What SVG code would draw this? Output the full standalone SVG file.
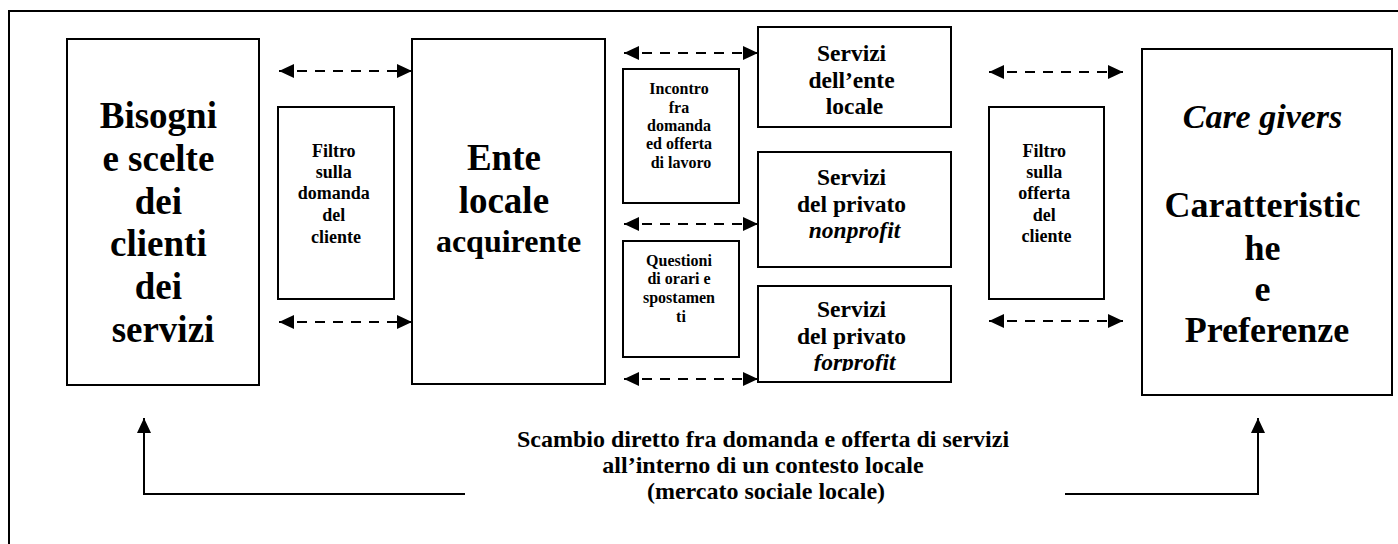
<svg xmlns="http://www.w3.org/2000/svg" width="1398" height="544" viewBox="0 0 1398 544">
<style>
  .box { fill: #fff; stroke: #000; stroke-width: 2; }
  text { font-family: "Liberation Serif", Tinos, "DejaVu Serif", "Times New Roman", serif; font-weight: bold; text-anchor: middle; fill: #000; }
  .i { font-style: italic; }
  .dash { stroke: #000; stroke-width: 2; stroke-dasharray: 10 8; fill: none; }
  .solid { stroke: #000; stroke-width: 2; fill: none; }
</style>
<defs>
  <marker id="ah" viewBox="0 0 15 14" refX="15" refY="7" markerWidth="15" markerHeight="14" markerUnits="userSpaceOnUse" orient="auto-start-reverse">
    <path d="M0,0 L15,7 L0,14 Z" fill="#000" stroke="none"/>
  </marker>
  <clipPath id="clip3"><rect x="758" y="286" width="193" height="85"/></clipPath>
</defs>
<rect width="1398" height="544" fill="#fff"/>
<path class="solid" d="M9,544 V11 H1398"/>

<g id="bisogni">
  <rect class="box" x="67" y="39" width="192" height="346"/>
  <text font-size="37">
    <tspan x="163" y="128">Bisogni</tspan>
    <tspan x="163" y="171">e scelte</tspan>
    <tspan x="163" y="214">dei</tspan>
    <tspan x="163" y="256">clienti</tspan>
    <tspan x="163" y="299">dei</tspan>
    <tspan x="163" y="342">servizi</tspan>
  </text>
</g>

<g id="filtro-domanda">
  <rect class="box" x="278" y="107" width="116" height="192"/>
  <text font-size="18">
    <tspan x="336" y="157">Filtro</tspan>
    <tspan x="336" y="178">sulla</tspan>
    <tspan x="336" y="199">domanda</tspan>
    <tspan x="336" y="221">del</tspan>
    <tspan x="336" y="243">cliente</tspan>
  </text>
</g>

<g id="ente">
  <rect class="box" x="412" y="39" width="193" height="345"/>
  <text font-size="37">
    <tspan x="508.5" y="170">Ente</tspan>
    <tspan x="508.5" y="213">locale</tspan>
    <tspan x="508.5" y="252" font-size="32">acquirente</tspan>
  </text>
</g>

<g id="incontro">
  <rect class="box" x="623" y="69" width="116" height="134"/>
  <text font-size="16">
    <tspan x="681" y="94">Incontro</tspan>
    <tspan x="681" y="113">fra</tspan>
    <tspan x="681" y="131">domanda</tspan>
    <tspan x="681" y="149">ed offerta</tspan>
    <tspan x="681" y="168">di lavoro</tspan>
  </text>
</g>

<g id="questioni">
  <rect class="box" x="623" y="241" width="116" height="116"/>
  <text font-size="16">
    <tspan x="681" y="266">Questioni</tspan>
    <tspan x="681" y="284">di orari e</tspan>
    <tspan x="681" y="303">spostamen</tspan>
    <tspan x="681" y="322">ti</tspan>
  </text>
</g>

<g id="servizi-ente">
  <rect class="box" x="758" y="27" width="193" height="100"/>
  <text font-size="23.5">
    <tspan x="854.5" y="61">Servizi</tspan>
    <tspan x="854.5" y="88">dell’ente</tspan>
    <tspan x="854.5" y="114">locale</tspan>
  </text>
</g>

<g id="servizi-nonprofit">
  <rect class="box" x="758" y="152" width="193" height="115"/>
  <text font-size="23.5">
    <tspan x="854.5" y="185">Servizi</tspan>
    <tspan x="854.5" y="212">del privato</tspan>
    <tspan x="854.5" y="238" class="i">nonprofit</tspan>
  </text>
</g>

<g id="servizi-forprofit">
  <rect class="box" x="758" y="286" width="193" height="96"/>
  <text font-size="23.5" clip-path="url(#clip3)">
    <tspan x="854.5" y="317">Servizi</tspan>
    <tspan x="854.5" y="344">del privato</tspan>
    <tspan x="854.5" y="370" class="i">forprofit</tspan>
  </text>
</g>

<g id="filtro-offerta">
  <rect class="box" x="989" y="107" width="115" height="192"/>
  <text font-size="18">
    <tspan x="1046.5" y="157">Filtro</tspan>
    <tspan x="1046.5" y="178">sulla</tspan>
    <tspan x="1046.5" y="199">offerta</tspan>
    <tspan x="1046.5" y="221">del</tspan>
    <tspan x="1046.5" y="242">cliente</tspan>
  </text>
</g>

<g id="care-givers">
  <rect class="box" x="1142" y="49" width="250" height="346"/>
  <text font-size="36">
    <tspan x="1267" y="128" class="i" font-size="34">Care givers</tspan>
    <tspan x="1267" y="217">Caratteristic</tspan>
    <tspan x="1267" y="260">he</tspan>
    <tspan x="1267" y="301">e</tspan>
    <tspan x="1267" y="342">Preferenze</tspan>
  </text>
</g>

<g id="label-scambio">
  <text font-size="24">
    <tspan x="766" y="447">Scambio diretto fra domanda e offerta di servizi</tspan>
    <tspan x="766" y="473">all’interno di un contesto locale</tspan>
    <tspan x="766" y="499">(mercato sociale locale)</tspan>
  </text>
</g>

<g id="connectors">
  <line class="dash" x1="279" y1="71" x2="412" y2="71" marker-start="url(#ah)" marker-end="url(#ah)"/>
  <line class="dash" x1="279" y1="322" x2="412" y2="322" marker-start="url(#ah)" marker-end="url(#ah)"/>
  <line class="dash" x1="624" y1="53" x2="758" y2="53" marker-start="url(#ah)" marker-end="url(#ah)"/>
  <line class="dash" x1="624" y1="224" x2="758" y2="224" marker-start="url(#ah)" marker-end="url(#ah)"/>
  <line class="dash" x1="624" y1="379" x2="758" y2="379" marker-start="url(#ah)" marker-end="url(#ah)"/>
  <line class="dash" x1="989" y1="72" x2="1123" y2="72" marker-start="url(#ah)" marker-end="url(#ah)"/>
  <line class="dash" x1="989" y1="321" x2="1123" y2="321" marker-start="url(#ah)" marker-end="url(#ah)"/>
  <polyline class="solid" points="465,494 144,494 144,418" marker-end="url(#ah)"/>
  <polyline class="solid" points="1065,494 1258,494 1258,418" marker-end="url(#ah)"/>
</g>
</svg>
